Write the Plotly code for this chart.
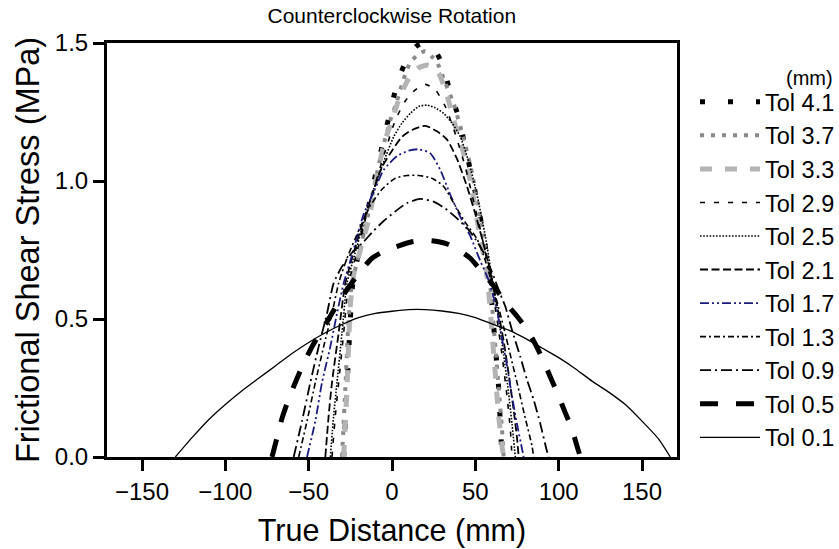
import plotly.graph_objects as go

# Frictional shear stress profiles along the contact for each tolerance (mm)
x_tol41 = [-29, -27, -25, -23.5, -20, -15, -10, -5, 0, 4, 10, 15, 20, 25, 30, 35, 40, 43, 47, 51, 55, 58, 60, 62, 64, 65, 66]
y_tol41 = [0, 0.25, 0.5, 0.63, 0.74, 0.88, 1.02, 1.15, 1.28, 1.37, 1.455, 1.49, 1.5, 1.48, 1.426, 1.32, 1.23, 1.15, 1.04, 0.93, 0.8, 0.68, 0.55, 0.4, 0.25, 0.12, 0]

x_tol37 = [-30, -28, -26, -24, -20, -15, -10, -6, -1, 3, 7, 11, 16, 20, 24, 27, 32, 37, 44, 48, 52, 55, 58, 60, 62, 64, 66, 67]
y_tol37 = [0, 0.25, 0.5, 0.63, 0.73, 0.86, 1.0, 1.11, 1.22, 1.29, 1.37, 1.43, 1.46, 1.47, 1.45, 1.43, 1.355, 1.28, 1.13, 1.03, 0.9, 0.8, 0.68, 0.55, 0.4, 0.25, 0.1, 0]

x_tol33 = [-29, -27, -25, -23, -19, -14, -11, -8, -4, 0, 5, 10, 16, 22, 28, 33, 38, 44, 47, 50, 53, 56, 58, 60, 62, 64, 66, 67]
y_tol33 = [0, 0.25, 0.55, 0.66, 0.75, 0.86, 0.95, 1.05, 1.15, 1.22, 1.31, 1.37, 1.41, 1.42, 1.39, 1.31, 1.2, 1.08, 1.0, 0.9, 0.79, 0.7, 0.6, 0.45, 0.3, 0.15, 0.04, 0]

x_tol29 = [-36, -34, -32, -29, -26, -22, -16, -10, -4, 2, 8, 14, 20, 26, 32, 38, 44, 50, 55, 59, 63, 66, 69, 71, 72]
y_tol29 = [0, 0.15, 0.27, 0.45, 0.63, 0.72, 0.86, 0.99, 1.11, 1.22, 1.29, 1.33, 1.35, 1.33, 1.27, 1.17, 1.05, 0.9, 0.77, 0.65, 0.5, 0.37, 0.22, 0.1, 0]

x_tol25 = [-37, -35, -33, -30, -27, -23, -17, -11, -5, 1, 6, 11, 16, 21, 26, 31, 36, 41, 46, 51, 56, 60, 64, 67, 70, 72, 74]
y_tol25 = [0, 0.15, 0.27, 0.45, 0.63, 0.72, 0.85, 0.97, 1.07, 1.16, 1.21, 1.245, 1.27, 1.275, 1.265, 1.245, 1.21, 1.16, 1.07, 0.95, 0.8, 0.65, 0.5, 0.37, 0.23, 0.12, 0]

x_tol21 = [-40, -38, -36, -32, -28, -24, -18, -12, -6, 0, 6, 12, 20, 27, 33, 39, 45, 50, 55, 59, 63, 67, 70, 73, 75, 76]
y_tol21 = [0, 0.15, 0.27, 0.45, 0.63, 0.72, 0.84, 0.95, 1.05, 1.11, 1.16, 1.185, 1.2, 1.18, 1.15, 1.08, 0.98, 0.88, 0.77, 0.67, 0.55, 0.42, 0.3, 0.17, 0.07, 0]

x_tol17 = [-51, -46, -42, -37, -33, -29, -24, -17, -11, -5, 3, 10, 16, 23, 29, 35, 41, 47, 53, 58, 63, 66, 69, 72, 75, 78, 79]
y_tol17 = [0, 0.13, 0.27, 0.4, 0.52, 0.63, 0.73, 0.88, 0.96, 1.04, 1.09, 1.11, 1.115, 1.10, 1.04, 0.95, 0.87, 0.8, 0.71, 0.64, 0.53, 0.43, 0.33, 0.22, 0.12, 0.03, 0]

x_tol13 = [-56, -51, -46, -41, -36, -32, -27, -20, -13, -6, 2, 9, 16, 24, 31, 38, 44, 51, 55, 60, 64, 67, 71, 75, 80, 84, 85]
y_tol13 = [0, 0.13, 0.27, 0.4, 0.52, 0.63, 0.72, 0.82, 0.91, 0.97, 1.01, 1.02, 1.02, 1.01, 0.98, 0.91, 0.85, 0.79, 0.73, 0.63, 0.54, 0.47, 0.37, 0.27, 0.14, 0.04, 0]

x_tol09 = [-59, -54, -49, -44, -39, -35, -30, -24, -17, -11, -5, 2, 9, 17, 25, 32, 38, 45, 50, 55, 60, 65, 68, 72, 77, 81, 85, 89, 93, 94]
y_tol09 = [0, 0.13, 0.27, 0.4, 0.52, 0.63, 0.69, 0.74, 0.78, 0.82, 0.855, 0.89, 0.92, 0.935, 0.925, 0.9, 0.87, 0.83, 0.79, 0.74, 0.67, 0.59, 0.545, 0.46, 0.363, 0.28, 0.207, 0.12, 0.02, 0]

x_tol05 = [-72, -69, -66, -62, -58, -53, -47, -40, -30, -20, -12, -5, 4, 12, 20, 28, 34, 40, 47, 54, 61, 68, 75, 80, 85, 90, 95, 100, 104, 108, 111, 113]
y_tol05 = [0, 0.07, 0.14, 0.21, 0.27, 0.34, 0.41, 0.48, 0.58, 0.665, 0.72, 0.745, 0.765, 0.78, 0.785, 0.78, 0.77, 0.75, 0.72, 0.67, 0.62, 0.56, 0.51, 0.47, 0.42, 0.36, 0.29, 0.22, 0.16, 0.1, 0.04, 0]

x_tol01 = [-130, -120, -110, -100, -90, -80, -70, -60, -50, -40, -30, -20, -10, 0, 10, 20, 30, 40, 50, 60, 70, 80, 90, 100, 110, 120, 130, 140, 150, 160, 167]
y_tol01 = [0, 0.07, 0.135, 0.19, 0.24, 0.285, 0.33, 0.375, 0.415, 0.45, 0.48, 0.505, 0.52, 0.528, 0.534, 0.534, 0.529, 0.52, 0.505, 0.482, 0.46, 0.43, 0.395, 0.36, 0.32, 0.275, 0.235, 0.19, 0.13, 0.065, 0]

labels = ["Tol 4.1", "Tol 3.7", "Tol 3.3", "Tol 2.9", "Tol 2.5", "Tol 2.1",
          "Tol 1.7", "Tol 1.3", "Tol 0.9", "Tol 0.5", "Tol 0.1"]

series = [
    (x_tol41, y_tol41, dict(color="black", width=5, dash="5px,23px")),
    (x_tol37, y_tol37, dict(color="#8a8a8a", width=4, dash="4px,7px")),
    (x_tol33, y_tol33, dict(color="#b4b4b4", width=5, dash="12px,13px")),
    (x_tol29, y_tol29, dict(color="black", width=1.6, dash="5px,9px")),
    (x_tol25, y_tol25, dict(color="black", width=1.6, dash="1.6px,1.6px")),
    (x_tol21, y_tol21, dict(color="black", width=1.8, dash="8px,3.5px")),
    (x_tol17, y_tol17, dict(color="#1c1c80", width=1.8, dash="9px,3px,2px,3px,2px,3px")),
    (x_tol13, y_tol13, dict(color="black", width=1.6, dash="6px,3px,2px,3px")),
    (x_tol09, y_tol09, dict(color="black", width=1.8, dash="11px,4px,2px,4px")),
    (x_tol05, y_tol05, dict(color="black", width=5, dash="18px,18px")),
    (x_tol01, y_tol01, dict(color="black", width=1.3, dash="solid")),
]

FONT = "Arial, 'Liberation Sans', sans-serif"

fig = go.Figure()
for name, (xs, ys, line) in zip(labels, series):
    fig.add_trace(go.Scatter(x=xs, y=ys, mode="lines", name=name,
                             line=dict(shape="spline", smoothing=0.6, **line)))

axis_common = dict(showline=True, linecolor="black", linewidth=3, mirror=True,
                   ticks="outside", ticklen=11, tickwidth=2.5, tickcolor="black",
                   showgrid=False, zeroline=False, automargin=False,
                   tickfont=dict(family=FONT, size=24, color="black"))

fig.update_layout(
    width=839, height=549,
    margin=dict(l=107, r=162, t=43, b=92),
    paper_bgcolor="white", plot_bgcolor="white",
    title=dict(text="Counterclockwise Rotation", x=0.467, xanchor="center",
               y=0.972, yanchor="middle", automargin=False,
               font=dict(family=FONT, size=21, color="black")),
    xaxis=dict(range=[-171, 171], tickvals=[-150, -100, -50, 0, 50, 100, 150],
               title=dict(text="True Distance (mm)", standoff=16,
                          font=dict(family=FONT, size=30.5, color="black")),
               **axis_common),
    yaxis=dict(range=[0, 1.5], tickvals=[0, 0.5, 1.0, 1.5], tickformat=".1f",
               title=dict(text="Frictional Shear Stress (MPa)", standoff=6,
                          font=dict(family=FONT, size=32.5, color="black")),
               **axis_common),
    legend=dict(xref="container", yref="container",
                x=695 / 839, xanchor="left", y=1 - 80 / 549, yanchor="top",
                maxheight=470, itemwidth=60, tracegroupgap=0,
                bgcolor="rgba(0,0,0,0)",
                font=dict(family=FONT, size=23.5, color="black")),
    annotations=[dict(text="(mm)", xref="paper", yref="paper", x=1.277, y=0.9155,
                      xanchor="right", yanchor="middle", showarrow=False,
                      font=dict(family=FONT, size=20, color="black"))],
)

fig.write_html("out.html")
